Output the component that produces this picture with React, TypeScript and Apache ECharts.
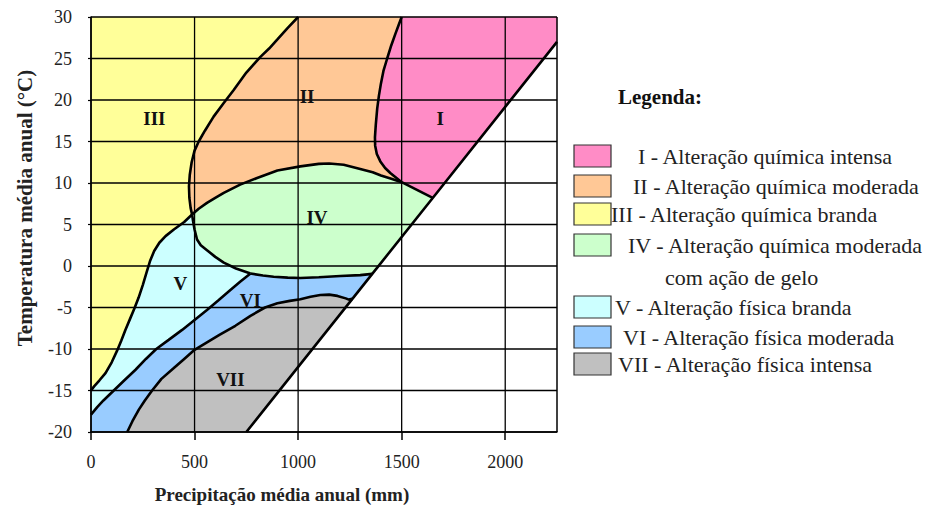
import React, { useEffect, useRef } from "react";
import * as echarts from "echarts";

// ---- data (precipitation mm, temperature °C) ----
const X_MIN = 0;
const X_MAX = 2250;
const Y_MIN = -20;
const Y_MAX = 30;
const X_TICKS = [0, 500, 1000, 1500, 2000];
const Y_TICKS = [-20, -15, -10, -5, 0, 5, 10, 15, 20, 25, 30];

const DIAGONAL = [[750, -20], [1262, -3.96], [1358, -0.95], [1650, 8.2], [2250, 27]];

const II_LEFT = [
  [1000, 30], [950, 28.7], [900, 27.3], [860, 26.2], [818, 25.2], [750, 23.3], [689, 21.2],
  [640, 19.6], [592, 18.0], [550, 16.3], [520, 15.0], [500, 13.9], [486, 12.5], [477, 11.0],
  [473, 9.6], [475, 8.2], [481, 7.0], [488, 6.2],
];

const IV_TOP = [
  [488, 6.2], [520, 6.9], [560, 7.6], [600, 8.2], [641, 8.8], [720, 9.8], [802, 10.6],
  [900, 11.5], [1011, 12.0], [1100, 12.3], [1150, 12.35], [1220, 12.2], [1300, 11.7],
  [1360, 11.3], [1400, 10.9], [1450, 10.5], [1500, 10.1],
];

const I_LEFT = [
  [1500, 30], [1485, 29], [1470, 28], [1450, 26.6], [1430, 25], [1412, 23.5], [1400, 22],
  [1390, 20.5], [1382, 19], [1375, 17], [1371, 15.5], [1372, 14.5], [1380, 13.5],
  [1397, 12.6], [1420, 11.8], [1445, 11.2], [1475, 10.6], [1500, 10.1],
];

const I_BOTTOM = [[1500, 10.1], [1650, 8.2]];

const IV_LEFT = [
  [488, 6.2], [493, 5.4], [500, 4.4], [512, 3.2], [530, 2.5], [560, 1.9], [600, 1.1],
  [641, 0.4], [700, -0.3], [770, -0.9],
];

const IV_BOTTOM = [
  [770, -0.9], [830, -1.15], [882, -1.3], [950, -1.4], [1011, -1.45], [1100, -1.35],
  [1204, -1.2], [1300, -1.1], [1358, -0.95],
];

const III_V = [
  [488, 6.2], [450, 5.3], [400, 4.4], [360, 3.6], [330, 2.8], [305, 1.8], [285, 0.6],
  [268, -0.8], [250, -2.3], [230, -3.8], [210, -5.1], [188, -6.4], [166, -7.7], [146, -9.0],
  [126, -10.2], [100, -11.6], [70, -12.9], [40, -13.8], [15, -14.5], [0, -15.0],
];

const VI_TOP = [
  [0, -17.9], [30, -17.0], [60, -16.2], [110, -15.0], [160, -13.8], [215, -12.5],
  [265, -11.2], [315, -10.0], [375, -8.9], [440, -7.7], [500, -6.5], [560, -5.3],
  [617, -4.1], [673, -2.9], [720, -1.9], [770, -0.9],
];

const VII_TOP = [
  [175, -20], [200, -18.7], [231, -17.3], [260, -16.2], [295, -15.0], [340, -13.6],
  [400, -12.3], [450, -11.2], [500, -10.1], [560, -9.2], [620, -8.3], [697, -7.2],
  [770, -6.0], [840, -5.0], [900, -4.5], [960, -4.2], [1011, -4.0], [1060, -3.7],
  [1107, -3.5], [1150, -3.45], [1190, -3.6], [1230, -3.9], [1245, -4.05], [1262, -3.96],
];

const REGION_NAMES = ["I", "II", "III", "IV", "V", "VI", "VII"];
const REGION_COLORS = ["#FF8CC6", "#FFC896", "#FFFF99", "#CCFFCC", "#CCFFFF", "#99CCFF", "#C0C0C0"];
const REGION_LABEL_POS = [
  [1686, 17.8], [1043, 20.4], [306, 17.8], [1091, 5.9], [432, -2.1], [769, -4.1], [673, -13.7],
];

const LEGEND_TITLE = "Legenda:";
const LEGEND_LABELS = [
  "I - Alteração química intensa",
  "II - Alteração química moderada",
  "III - Alteração química branda",
  "IV - Alteração química moderada",
  "V - Alteração física branda",
  "VI - Alteração física moderada",
  "VII - Alteração física intensa",
];
const LEGEND_CONT = "com ação de gelo";

const X_TITLE = "Precipitação média anual (mm)";
const Y_TITLE = "Temperatura média anual (°C)";

// ---- region polygons composed from boundaries ----
const rev = (a: number[][]) => a.slice().reverse();

const POLY_III = [[0, 30], ...II_LEFT, ...III_V.slice(1)];
const POLY_II = [[1000, 30], ...I_LEFT, ...rev(IV_TOP).slice(1), ...rev(II_LEFT).slice(1)];
const POLY_I = [...I_LEFT, [1650, 8.2], [2250, 27], [2250, 30]];
const POLY_IV = [...IV_TOP, [1650, 8.2], ...rev(IV_BOTTOM), ...rev(IV_LEFT).slice(1)];
const POLY_V = [...III_V, ...VI_TOP, ...rev(IV_LEFT).slice(1)];
const POLY_VI = [...VI_TOP, ...IV_BOTTOM.slice(1), ...rev(VII_TOP), [0, -20]];
const POLY_VII = [...VII_TOP, [750, -20]];

const POLYS = [POLY_I, POLY_II, POLY_III, POLY_IV, POLY_V, POLY_VI, POLY_VII];
const LINES = [DIAGONAL, II_LEFT, IV_TOP, I_LEFT, I_BOTTOM, IV_LEFT, IV_BOTTOM, III_V, VI_TOP, VII_TOP];

// ---- layout (presentation only) ----
const SERIF = '"Liberation Serif", "Times New Roman", serif';
const LEGEND_ROWS_Y = [156, 186, 214, 245, 307, 337, 364];
const LEGEND_TEXT_X = [638, 633, 611, 628, 615, 623, 618];

export default function App() {
  const ref = useRef<HTMLDivElement>(null);

  useEffect(() => {
    if (!ref.current) return;
    const chart = echarts.init(ref.current, null, { renderer: "svg" });

    // One custom series: region fills first, then grid lines on top of them (same group → draw order kept).
    const regionsAndGrid = {
      type: "custom",
      name: "regions",
      data: REGION_LABEL_POS,
      encode: { x: 0, y: 1 },
      z: 2,
      silent: true,
      renderItem: (params: any, api: any) => {
        if (params.dataIndex !== 0) return null;
        const children: any[] = [];
        POLYS.forEach((pts, i) => {
          children.push({
            type: "polygon",
            z2: 1,
            shape: { points: pts.map((p) => api.coord(p)) },
            style: { fill: REGION_COLORS[i], stroke: REGION_COLORS[i], lineWidth: 0.5 },
          });
        });
        const seg = (a: number[], b: number[], w: number) => {
          const p = api.coord(a);
          const q = api.coord(b);
          children.push({
            type: "line",
            z2: 50,
            shape: { x1: p[0], y1: p[1], x2: q[0], y2: q[1] },
            style: { stroke: "#000", lineWidth: w },
          });
        };
        X_TICKS.forEach((v) => seg([v, Y_MIN], [v, Y_MAX], 1.3));
        Y_TICKS.forEach((v) => seg([X_MIN, v], [X_MAX, v], 1.3));
        seg([X_MAX, Y_MIN], [X_MAX, Y_MAX], 1.5);
        return { type: "group", children };
      },
    };

    const lineSeries = LINES.map((pts) => ({
      type: "line",
      data: pts,
      symbol: "none",
      z: 11,
      silent: true,
      lineStyle: { color: "#000", width: 2.6 },
    }));

    const labelSeries = {
      type: "scatter",
      z: 12,
      silent: true,
      symbolSize: 1,
      itemStyle: { color: "rgba(0,0,0,0)" },
      data: REGION_NAMES.map((n, i) => ({ name: n, value: REGION_LABEL_POS[i] })),
      label: {
        show: true,
        position: "inside",
        formatter: "{b}",
        color: "#111",
        opacity: 1,
        textBorderWidth: 0,
        fontFamily: SERIF,
        fontWeight: "bold",
        fontSize: 19,
      },
    };

    const graphics: any[] = [
      {
        type: "text",
        x: 282,
        y: 494,
        style: {
          text: X_TITLE,
          font: `bold 19px ${SERIF}`,
          fill: "#222",
          textAlign: "center",
          textVerticalAlign: "middle",
        },
      },
      {
        type: "text",
        x: 25,
        y: 208,
        rotation: Math.PI / 2,
        style: {
          text: Y_TITLE,
          font: `bold 21px ${SERIF}`,
          fill: "#222",
          textAlign: "center",
          textVerticalAlign: "middle",
        },
      },
      {
        type: "text",
        x: 618,
        y: 97,
        style: {
          text: LEGEND_TITLE,
          font: `bold 21px ${SERIF}`,
          fill: "#111",
          textVerticalAlign: "middle",
        },
      },
    ];
    LEGEND_LABELS.forEach((lab, i) => {
      const cy = LEGEND_ROWS_Y[i];
      graphics.push({
        type: "rect",
        shape: { x: 574, y: cy - 11, width: 37, height: 22 },
        style: { fill: REGION_COLORS[i], stroke: "#333", lineWidth: 1.2 },
      });
      graphics.push({
        type: "text",
        x: LEGEND_TEXT_X[i],
        y: cy,
        style: { text: lab, font: `22px ${SERIF}`, fill: "#222", textVerticalAlign: "middle" },
      });
    });
    graphics.push({
      type: "text",
      x: 665,
      y: 277,
      style: { text: LEGEND_CONT, font: `22px ${SERIF}`, fill: "#222", textVerticalAlign: "middle" },
    });

    const option: any = {
      animation: false,
      tooltip: { show: false },
      grid: {
        left: 91,
        top: 17,
        width: 466,
        height: 415,
        show: false,
      },
      xAxis: {
        type: "value",
        min: X_MIN,
        max: X_MAX,
        interval: 500,
        z: 10,
        axisLine: { show: true, onZero: false, lineStyle: { color: "#000", width: 1.5 } },
        axisTick: { show: true, length: 8, customValues: X_TICKS, lineStyle: { color: "#000", width: 1.5 } },
        axisLabel: {
          customValues: X_TICKS,
          formatter: (v: number) => String(v),
          color: "#222",
          fontFamily: SERIF,
          fontSize: 18,
          margin: 21,
        },
        splitLine: { show: false },
      },
      yAxis: {
        type: "value",
        min: Y_MIN,
        max: Y_MAX,
        interval: 5,
        z: 10,
        axisLine: { show: true, onZero: false, lineStyle: { color: "#000", width: 1.5 } },
        axisTick: { show: true, length: 3, lineStyle: { color: "#000", width: 1.2 } },
        axisLabel: { color: "#222", fontFamily: SERIF, fontSize: 18, margin: 19 },
        splitLine: { show: false },
      },
      graphic: graphics,
      series: [regionsAndGrid, ...lineSeries, labelSeries],
    };

    chart.setOption(option);
    return () => chart.dispose();
  }, []);

  return (
    <div
      ref={ref}
      style={{ position: "absolute", left: 0, top: 0, width: 937, height: 523, background: "#fff" }}
    />
  );
}
